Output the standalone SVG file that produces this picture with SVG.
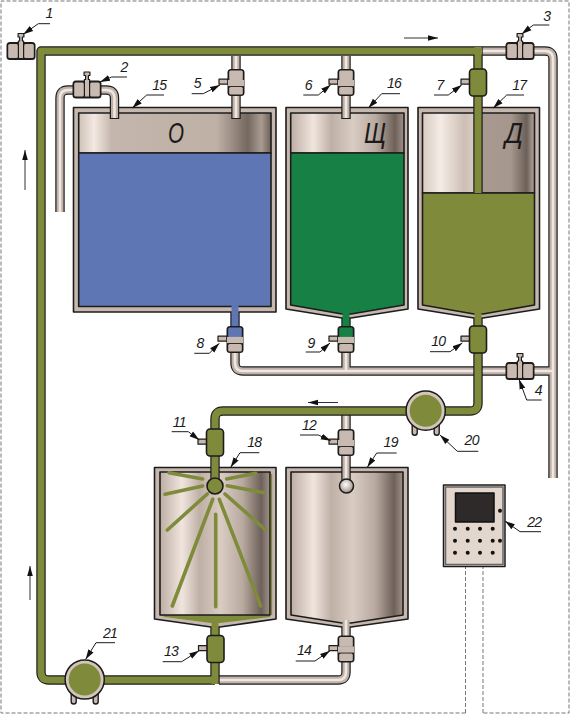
<svg xmlns="http://www.w3.org/2000/svg" xmlns:xlink="http://www.w3.org/1999/xlink" width="570" height="714" viewBox="0 0 570 714">
<style>
text{font-family:"Liberation Sans",Arial,sans-serif;font-style:italic;fill:#1a1a1a}
.n{font-size:14px;text-anchor:middle;letter-spacing:-.7px}
.L{font-size:29px;text-anchor:middle}
path,line,rect,circle,polygon{stroke-linejoin:round}
.dk{fill:none;stroke:#1c1c1c;stroke-width:9.400}
.lt{fill:none;stroke:#bfb1a7;stroke-width:7}
.hi{fill:none;stroke:#efe7e1;stroke-width:2.600}
.gr{fill:none;stroke:#7f8b3a;stroke-width:7}
.bl{fill:none;stroke:#5f76b5;stroke-width:7}
.dg{fill:none;stroke:#178044;stroke-width:7}
.wall{fill:#c6b8ae;stroke:#1c1c1c;stroke-width:1.600}
.in{stroke:#1c1c1c;stroke-width:1.600}
.ld{fill:none;stroke:#1c1c1c;stroke-width:1;marker-end:url(#a)}
.fl{fill:none;stroke:#333;stroke-width:1;marker-end:url(#f)}
.sp{stroke:#7f8b3a;stroke-width:3.600;stroke-linecap:round}
.dash{fill:none;stroke:#777;stroke-width:1;stroke-dasharray:4 2}
.v{fill:#c8bab0;stroke:#1c1c1c;stroke-width:1.200}
.pg{fill:#7f8b3a;stroke:#1c1c1c;stroke-width:1.600}
</style>
<defs>
<marker id="a" markerUnits="userSpaceOnUse" markerWidth="11" markerHeight="8" refX="10" refY="4" orient="auto"><path d="M0 1L10 4L0 7z" fill="#111"/></marker>
<marker id="f" markerUnits="userSpaceOnUse" markerWidth="11" markerHeight="8" refX="10" refY="4" orient="auto"><path d="M0 1.200L10 4L0 6.800z" fill="#111"/></marker>
<linearGradient id="m1"><stop offset="0" stop-color="#cfc1b7"/><stop offset=".08" stop-color="#f3e9e2"/><stop offset=".17" stop-color="#c4b6ac"/><stop offset=".72" stop-color="#bfb0a6"/><stop offset=".88" stop-color="#75685f"/><stop offset=".95" stop-color="#a99b91"/><stop offset="1" stop-color="#6d6058"/></linearGradient>
<linearGradient id="m2"><stop offset="0" stop-color="#bdaea4"/><stop offset=".2" stop-color="#f0e5de"/><stop offset=".36" stop-color="#bfb0a6"/><stop offset=".55" stop-color="#d9ccc3"/><stop offset=".75" stop-color="#b9aaa0"/><stop offset=".92" stop-color="#6e6159"/><stop offset="1" stop-color="#a0928a"/></linearGradient>
<linearGradient id="m3"><stop offset="0" stop-color="#d8cbc2"/><stop offset=".35" stop-color="#f5ece6"/><stop offset=".8" stop-color="#cdbfb5"/><stop offset="1" stop-color="#d9ccc3"/></linearGradient>
<linearGradient id="m4"><stop offset="0" stop-color="#a89a90"/><stop offset=".55" stop-color="#a5978d"/><stop offset=".85" stop-color="#6d6058"/><stop offset="1" stop-color="#b5a79d"/></linearGradient>
<radialGradient id="b" cx=".45" cy=".4" r=".6"><stop offset="0" stop-color="#fff"/><stop offset="1" stop-color="#9d8f85"/></radialGradient>
<g id="h"><rect x="-17" y="-3.300" width="9" height="5" class="v"/></g>
<g id="vv"><use xlink:href="#h"/><rect x="-8.500" y="-13.500" width="17" height="27" rx="3.500" fill="#1c1c1c"/><rect x="-6.800" y="-12" width="13.600" height="9.800" rx="1.500" fill="currentColor"/><rect x="-8" y="-2.600" width="16" height="6.200" fill="#c8bab0"/><rect x="-6.800" y="4.600" width="13.600" height="7.400" rx="1.500" fill="#c8bab0"/></g>
<g id="vo"><use xlink:href="#h"/><rect x="-8.500" y="-13.500" width="17" height="27" rx="3.500" class="pg"/></g>
<g id="vh"><rect x="-14.500" y="-9" width="29" height="18" rx="3.500" fill="#1c1c1c"/><rect x="-12.800" y="-7" width="9.800" height="14" rx="1.500" fill="#c8bab0"/><rect x="3" y="-7" width="9.800" height="14" rx="1.500" fill="#c8bab0"/><path d="M-2.600 -10H-1.400V-14H-2.900V-17.500H2.900V-14H1.400V-10H2.600V7.500H-2.600z" class="v"/></g>
<g id="pump"><path d="M-13.500 12V22a2.500 2.500 0 0 0 5 0V16M13.500 12V22a2.500 2.500 0 0 1-5 0V16" fill="#c8bab0" stroke="#1c1c1c" stroke-width="1.400"/><circle r="19.600" fill="#d2c5bb" stroke="#1c1c1c" stroke-width="1.500"/><circle r="16" fill="#7f8b3a"/></g>
</defs>
<rect width="570" height="714" fill="#fff"/>
<g id="frame"><path class="dash" d="M465.500 713H1V1H569V713H483M465.500 713V567M483 713V567"/></g>

<g id="tank-15"><rect x="73.500" y="107.500" width="202.500" height="204.500" class="wall"/><rect x="78.700" y="113" width="192.300" height="40" fill="url(#m1)" class="in"/><rect x="78.700" y="153" width="192.300" height="153.500" fill="#5f76b5" class="in"/><text class="L" x="176" y="143" textLength="16" lengthAdjust="spacingAndGlyphs">О</text></g>
<g id="tank-16"><polygon points="286,107.500 408,107.500 408,309 351,318 342,318 286,309" class="wall"/><rect x="290.700" y="113" width="113.300" height="40" fill="url(#m2)" class="in"/><polygon points="290.700,153 404,153 404,305 351,314 342,314 290.700,305" fill="#178044" class="in"/><text class="L" x="375" y="143" textLength="22" lengthAdjust="spacingAndGlyphs">Щ</text></g>
<g id="tank-17"><polygon points="418,107.500 539.500,107.500 539.500,309 483,318 474,318 418,309" class="wall"/><rect x="422.500" y="113" width="52" height="80" fill="url(#m3)"/><rect x="482" y="113" width="52.500" height="80" fill="url(#m4)"/><rect x="422.500" y="113" width="112" height="80" fill="none" class="in"/><polygon points="422.500,193 534.500,193 534.500,305 483,314 474,314 422.500,305" fill="#7f8b3a" class="in"/><text class="L" x="514" y="143" textLength="18" lengthAdjust="spacingAndGlyphs">Д</text></g>
<g id="tank-18"><polygon points="154.500,467.500 276,467.500 276,619 220,627 211,627 154.500,619" class="wall"/><polygon points="160,615 270,615 270,617 220,623 211,623 165,617" fill="#7f8b3a"/><rect x="160" y="472" width="110" height="143" fill="url(#m2)" class="in"/><line x1="271.500" y1="474" x2="271.500" y2="615" stroke="#7f8b3a" stroke-width="1.400"/>
<line class="sp" x1="169" y1="472.700" x2="202.700" y2="479"/><line class="sp" x1="165" y1="494.300" x2="202.700" y2="486"/><line class="sp" x1="167.300" y1="530" x2="207.300" y2="494"/><line class="sp" x1="172.300" y1="606" x2="212.700" y2="499.300"/><line class="sp" x1="215.700" y1="514.300" x2="215.700" y2="606.700"/><line class="sp" x1="219.300" y1="499.300" x2="260.700" y2="606"/><line class="sp" x1="225" y1="494" x2="265.700" y2="530"/><line class="sp" x1="227.300" y1="485.700" x2="264" y2="492.700"/><line class="sp" x1="226.700" y1="479" x2="255.700" y2="473.300"/></g>
<g id="tank-19"><polygon points="286,467.500 408,467.500 408,619 351,627 342,627 286,619" class="wall"/><polygon points="291,472 403,472 403,615 351,623 342,623 291,615" fill="url(#m2)" class="in"/></g>

<g id="connectors">
<g id="pipes-light">
<path class="dk" d="M60 212V98Q60 90 68 90H106Q114.500 90 114.500 98V119"/><path class="lt" d="M60 212V98Q60 90 68 90H106Q114.500 90 114.500 98V118"/><path class="hi" d="M60 212V98Q60 90 68 90H106Q114.500 90 114.500 98V118"/>
<path class="dk" d="M236 56V119M346 56V119M482 51H545Q553 51 553 59V478M235 345V363Q235 371 243 371H553M346 345V371M346 415V486M346 627V672Q346 680 338 680H219"/>
<path class="lt" d="M236 56V118M346 56V118M482 51H545Q553 51 553 59V478M235 345V363Q235 371 243 371H553M346 345V371M346 415V486M346 620V672Q346 680 338 680H219"/>
<path class="hi" d="M236 56V118M346 56V118M482 51H545Q553 51 553 59V478M235 345V363Q235 371 243 371H553M346 345V371M346 415V486M346 620V672Q346 680 338 680H219"/>
</g>
<g id="pipes-color">
<path class="dk" d="M235 312V330"/><path class="bl" d="M235 304V330"/>
<path class="dk" d="M346 318V330"/><path class="dg" d="M346 312V330"/>
<path class="dk" d="M482 51H41V672Q41 680 49 680H215M215 627V684M478 47V193M478 318V403Q478 411 470 411H223Q215 411 215 419V486"/>
<path class="gr" d="M482 51H41V672Q41 680 49 680H215M215 620V684M478 47V193M478 312V403Q478 411 470 411H223Q215 411 215 419V486"/>
</g>
<g id="flow-arrows"><line class="fl" x1="404" y1="38" x2="438" y2="38"/><line class="fl" x1="25" y1="190" x2="25" y2="150"/><line class="fl" x1="30" y1="600" x2="30" y2="566"/><line class="fl" x1="338" y1="402.500" x2="308" y2="402.500"/></g>
</g>

<g id="spray-head"><circle cx="215" cy="486" r="8" class="pg"/></g>
<g id="spray-ball"><circle cx="346.500" cy="486" r="7" fill="url(#b)" stroke="#1c1c1c" stroke-width="1.500"/></g>
<use id="valve-1" xlink:href="#vh" x="21" y="51"/>
<use id="valve-2" xlink:href="#vh" x="87" y="89.500"/>
<use id="valve-3" xlink:href="#vh" x="520" y="51"/>
<use id="valve-4" xlink:href="#vh" x="520" y="371"/>
<use id="valve-5" xlink:href="#vv" x="236" y="82.500" color="#c8bab0"/>
<use id="valve-6" xlink:href="#vv" x="346" y="82.500" color="#c8bab0"/>
<use id="valve-7" xlink:href="#vo" x="478" y="82.500"/>
<use id="valve-8" xlink:href="#vv" x="235" y="339.500" color="#5f76b5"/>
<use id="valve-9" xlink:href="#vv" x="346" y="339.500" color="#178044"/>
<use id="valve-10" xlink:href="#vo" x="478" y="339.500"/>
<use id="valve-11" xlink:href="#vo" x="215" y="442.500"/>
<use id="valve-12" xlink:href="#vv" x="346" y="442.500" color="#c8bab0"/>
<use id="valve-13" xlink:href="#vo" x="215.500" y="649"/>
<use id="valve-14" xlink:href="#vv" x="346" y="649" color="#c8bab0"/>
<use id="pump-20" xlink:href="#pump" x="425.700" y="410.700"/>
<use id="pump-21" xlink:href="#pump" x="84.700" y="679.500"/>

<g id="panel-22"><rect x="443.500" y="485" width="61.500" height="81.500" fill="#e3d6cc" stroke="#1c1c1c" stroke-width="1.500"/><rect x="445.500" y="487" width="57.500" height="77.500" fill="none" stroke="#666" stroke-width="1.500"/><rect x="455.500" y="493" width="38.500" height="29" fill="#2e2a29" stroke="#111" stroke-width="1.500"/><g fill="#111"><circle cx="455" cy="528.700" r="2"/><circle cx="467.700" cy="528.700" r="2"/><circle cx="480" cy="528.700" r="2"/><circle cx="492.700" cy="528.700" r="2"/><circle cx="455" cy="540.700" r="2"/><circle cx="467.700" cy="540.700" r="2"/><circle cx="480" cy="540.700" r="2"/><circle cx="492.700" cy="540.700" r="2"/><circle cx="455" cy="552.700" r="2"/><circle cx="467.700" cy="552.700" r="2"/><circle cx="480" cy="552.700" r="2"/><circle cx="492.700" cy="552.700" r="2"/><circle cx="500" cy="510.700" r="2"/><circle cx="500" cy="540.700" r="2"/></g></g>

<g id="leaders">
<path class="ld" d="M50 23.700H38.300L23.300 34.300"/>
<path class="ld" d="M127 77H111.700L100 82"/>
<path class="ld" d="M549.300 25H533.300L521.700 34"/>
<path class="ld" d="M541.700 400H526.700L519 379.300"/>
<path class="ld" d="M191.700 93.700H203.300L220 85"/>
<path class="ld" d="M303.300 95H318.300L330.700 84.700"/>
<path class="ld" d="M434 95H448.300L461.700 85"/>
<path class="ld" d="M194.300 353.300H209.300L219.300 343.300"/>
<path class="ld" d="M305.700 352H320L330 343"/>
<path class="ld" d="M430 351.700H450L462.300 343"/>
<path class="ld" d="M171.700 431.700H188.300L199.300 440"/>
<path class="ld" d="M300 435H318.300L330.700 440.700"/>
<path class="ld" d="M162.700 661.700H181.700L199 650.700"/>
<path class="ld" d="M295.700 661H315L330 650.700"/>
<path class="ld" d="M164 95H146.700L132.300 108"/>
<path class="ld" d="M400 93.700H381.700L368.300 108"/>
<path class="ld" d="M524 95H506.700L493.300 108"/>
<path class="ld" d="M259.300 452.700H240L230.700 467.300"/>
<path class="ld" d="M396.700 453H376.700L367.300 467.300"/>
<path class="ld" d="M478.300 451.300H457.300L440 435"/>
<path class="ld" d="M115 642.700H96L85.700 659.300"/>
<path class="ld" d="M541 531.700H520L505 521"/>
</g>
<g id="labels">
<text class="n" x="49" y="18">1</text><text class="n" x="124" y="71.700">2</text><text class="n" x="546.700" y="20.700">3</text><text class="n" x="538.300" y="395">4</text><text class="n" x="197.300" y="87.700">5</text><text class="n" x="308.300" y="90">6</text><text class="n" x="440" y="90">7</text><text class="n" x="200" y="348.300">8</text><text class="n" x="311" y="348">9</text><text class="n" x="438.300" y="346">10</text><text class="n" x="179.300" y="426.700">11</text><text class="n" x="309" y="430">12</text><text class="n" x="171" y="655.700">13</text><text class="n" x="304" y="655">14</text><text class="n" x="159.300" y="90">15</text><text class="n" x="394" y="87.700">16</text><text class="n" x="519.300" y="90">17</text><text class="n" x="254.300" y="447.300">18</text><text class="n" x="390.700" y="447.300">19</text><text class="n" x="471.700" y="445">20</text><text class="n" x="110" y="638.300">21</text><text class="n" x="534.300" y="527.300">22</text>
</g>
</svg>
